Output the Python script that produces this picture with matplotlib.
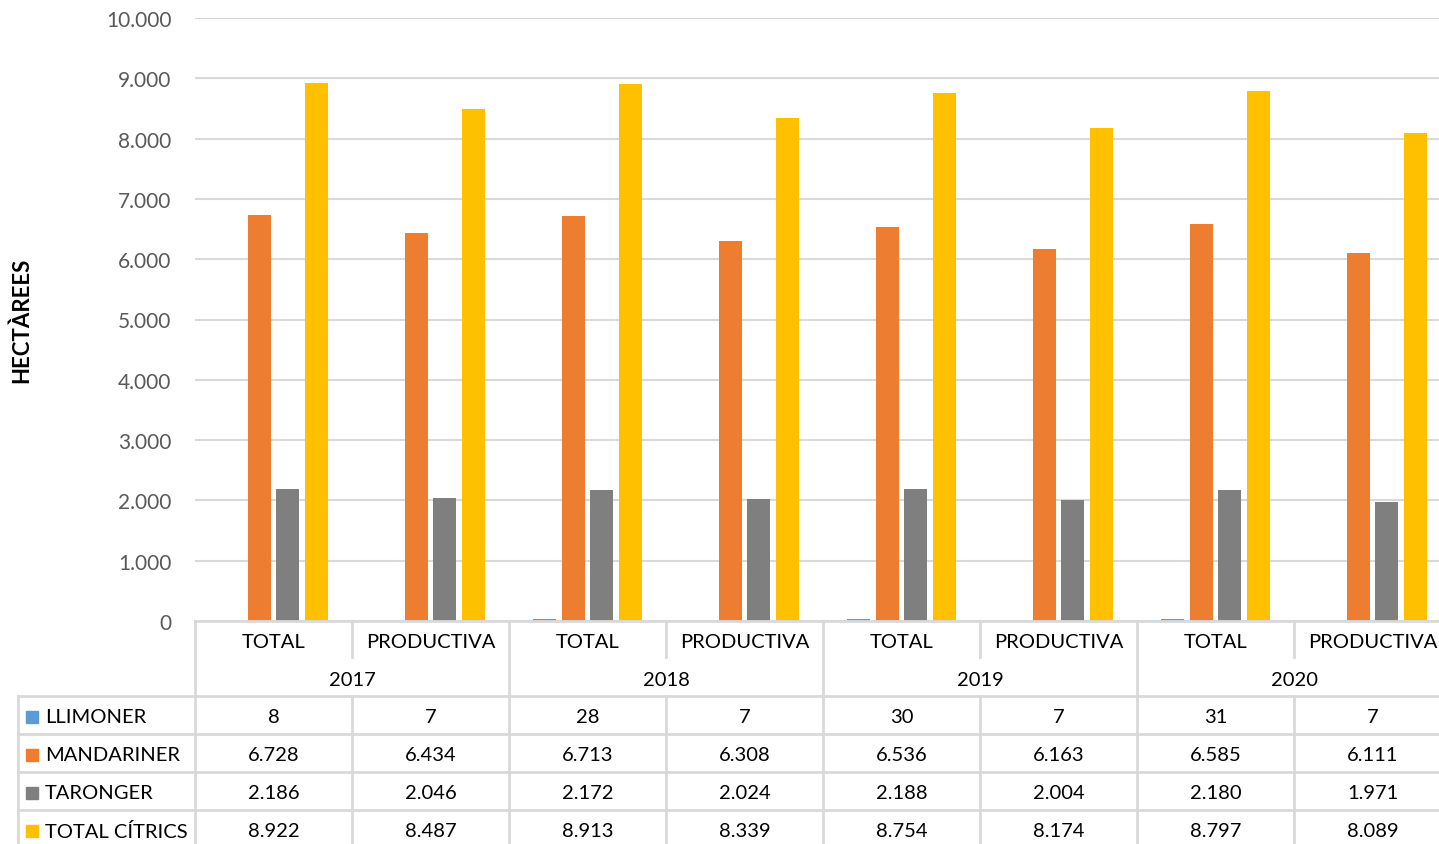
import matplotlib
matplotlib.use('Agg')
import matplotlib.pyplot as plt
import numpy as np

plt.rcParams['font.family'] = ['Lato', 'DejaVu Sans']

years = ['2017', '2018', '2019', '2020']
kinds = ['TOTAL', 'PRODUCTIVA']
series = ['LLIMONER', 'MANDARINER', 'TARONGER', 'TOTAL CÍTRICS']
llimoner = [8, 7, 28, 7, 30, 7, 31, 7]
mandariner = [6728, 6434, 6713, 6308, 6536, 6163, 6585, 6111]
taronger = [2186, 2046, 2172, 2024, 2188, 2004, 2180, 1971]
total_citrics = [8922, 8487, 8913, 8339, 8754, 8174, 8797, 8089]
colors = ['#5B9BD5', '#ED7D31', '#7F7F7F', '#FFC000']

values = [llimoner, mandariner, taronger, total_citrics]
ncat = len(years) * len(kinds)

W, H = 1439, 845
fig = plt.figure(figsize=(W / 100, H / 100), dpi=100)

# plot area in pixel terms (the original is cropped on the right)
left, top, bottom = 195, 19, 622
colw = 157
right = left + ncat * colw
ax = fig.add_axes([left / W, 1 - bottom / H, (right - left) / W, (bottom - top) / H])

x = np.arange(ncat)
step = 0.1815
width = 0.146
for k, vals in enumerate(values):
    ax.bar(x + (k - 1.5) * step, vals, width, color=colors[k], zorder=3)

ax.set_xlim(-0.5, ncat - 0.5)
ax.set_ylim(0, 10000)
ax.set_yticks(np.arange(0, 10001, 1000))
ax.set_yticklabels([f'{v:,}'.replace(',', '.') for v in range(0, 10001, 1000)])
ax.tick_params(axis='y', length=0, pad=17, labelsize=15, labelcolor='#595959')
ax.set_xticks([])
ax.grid(axis='y', color='#D9D9D9', linewidth=1.5, zorder=0)
for s in ax.spines.values():
    s.set_visible(False)

fig.text(22 / W, 1 - 320 / H, 'HECTÀREES', rotation=90, fontsize=16, fontweight='bold',
         ha='center', va='center')

# data table drawn underneath in pixel coordinates
tab = fig.add_axes([0, 0, 1, 1])
tab.set_xlim(0, W)
tab.set_ylim(H, 0)
tab.axis('off')

lc = '#D9D9D9'
lw = 2
rows = [622, 660, 697, 735, 773, 811, 849]

# horizontal lines
tab.plot([left, right], [rows[0], rows[0]], color=lc, lw=lw)
for y in rows[2:6]:
    tab.plot([18, right], [y, y], color=lc, lw=lw)
# left borders
tab.plot([18, 18], [rows[2], H], color=lc, lw=lw)
tab.plot([left, left], [rows[0], H], color=lc, lw=lw)
# column lines
for i in range(1, ncat + 1):
    xc = left + i * colw
    if i % 2 == 0:
        tab.plot([xc, xc], [rows[0], H], color=lc, lw=lw)
    else:
        tab.plot([xc, xc], [rows[0], rows[1] - 2], color=lc, lw=lw)
        tab.plot([xc, xc], [rows[2], H], color=lc, lw=lw)

fs = 14.5
dy = 2
for i in range(ncat):
    cx = left + (i + 0.5) * colw
    tab.text(cx, (rows[0] + rows[1]) / 2 + dy, kinds[i % 2], ha='center', va='center', fontsize=fs)
    for r, vals in enumerate(values):
        txt = f'{vals[i]:,}'.replace(',', '.')
        tab.text(cx, (rows[r + 2] + rows[r + 3]) / 2 + dy, txt, ha='center', va='center', fontsize=fs)
for j, yr in enumerate(years):
    cx = left + (j + 0.5) * 2 * colw
    tab.text(cx, (rows[1] + rows[2]) / 2 + dy, yr, ha='center', va='center', fontsize=fs)
for r, name in enumerate(series):
    ym = (rows[r + 2] + rows[r + 3]) / 2 + dy
    tab.add_patch(plt.Rectangle((26, ym - 6), 12, 12, color=colors[r]))
    tab.text(45, ym, name, ha='left', va='center', fontsize=fs)

fig.savefig('out.png', dpi=100)
